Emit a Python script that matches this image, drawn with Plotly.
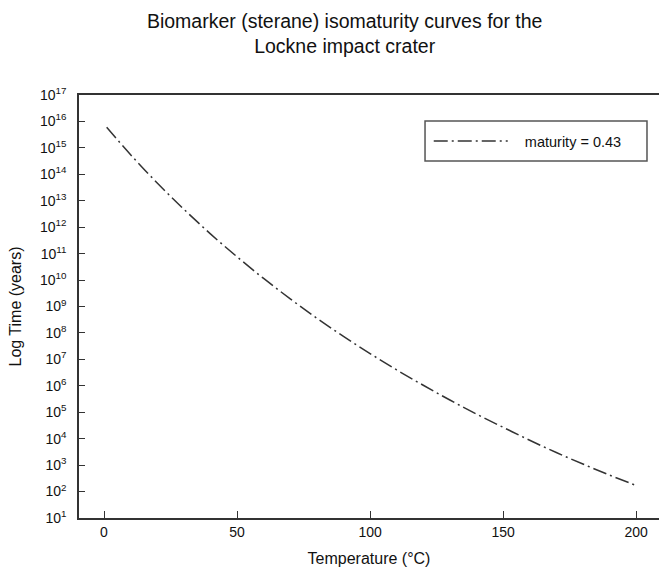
import plotly.graph_objects as go

# values
temperature_c = [1, 10, 20, 30, 40, 50, 60, 70, 80, 90, 100,
                 110, 120, 130, 140, 150, 160, 170, 180, 190, 200]
time_years = [6.0e15, 5.5e14, 4.7e13, 4.8e12, 5.6e11, 7.6e10, 1.15e10, 1.95e9,
              3.6e8, 7.4e7, 1.66e7, 4.0e6, 1.05e6, 2.9e5, 8.5e4, 2.7e4,
              8.7e3, 3.0e3, 1.1e3, 4.2e2, 1.7e2]
series_name = "maturity = 0.43"

x_ticks = [0, 50, 100, 150, 200]
y_exponents = list(range(1, 18))

font_family = "Liberation Sans, Arial, sans-serif"
ink = '#111111'

fig = go.Figure()
fig.add_trace(go.Scatter(
    x=temperature_c,
    y=time_years,
    mode='lines',
    name='\u00a0\u00a0\u00a0' + series_name,
    line=dict(color='#333333', width=1.5, dash='14px,4px,2px,4px'),
    line_shape='spline',
))

fig.update_layout(
    width=659,
    height=574,
    margin=dict(l=79, r=0, t=95, b=56),
    paper_bgcolor='white',
    plot_bgcolor='white',
    font=dict(family=font_family, color=ink),
    title=dict(
        text="Biomarker (sterane) isomaturity curves for the<br>Lockne impact crater",
        x=0.523, xanchor='center', y=0.951, yanchor='middle',
        font=dict(size=19.5, color=ink),
    ),
    showlegend=True,
    legend=dict(
        x=0.603, y=0.891, xanchor='left', yanchor='middle',
        borderwidth=0, bgcolor='rgba(0,0,0,0)',
        font=dict(size=14.5, color=ink),
        itemwidth=74,
    ),
    # legend frame
    shapes=[dict(
        type='rect', xref='paper', yref='paper',
        x0=0.5966, x1=0.9793, y0=0.844, y1=0.9385,
        line=dict(color='#555555', width=1.5),
        fillcolor='rgba(0,0,0,0)', layer='below',
    )],
)

fig.update_xaxes(
    range=[-9.4, 208.6],
    tickvals=x_ticks,
    ticks='inside', ticklen=7, tickcolor='#333333', tickwidth=1,
    showline=True, linecolor='#333333', linewidth=1.5, mirror=True,
    showgrid=False, zeroline=False,
    tickfont=dict(size=14, color=ink),
    title=dict(text="Temperature (°C)", font=dict(size=16), standoff=14),
)

fig.update_yaxes(
    type='log',
    range=[1, 17],
    tickvals=[10 ** e for e in y_exponents],
    ticktext=[f"10<sup>{e}</sup>" for e in y_exponents],
    ticks='inside', ticklen=6, tickcolor='#333333', tickwidth=1,
    minor=dict(ticks='inside', ticklen=3, tickcolor='#555555', showgrid=False),
    showline=True, linecolor='#333333', linewidth=1.5,
    showgrid=False, zeroline=False,
    tickfont=dict(size=14, color=ink),
    ticklabelstandoff=8,
    title=dict(text="Log Time (years)", font=dict(size=16), standoff=14),
)

# page body has a default 8px margin; drop it so the figure sits at 0,0
fig.write_html("out.html", config={'displayModeBar': False},
               post_script="document.body.style.margin='0';")
